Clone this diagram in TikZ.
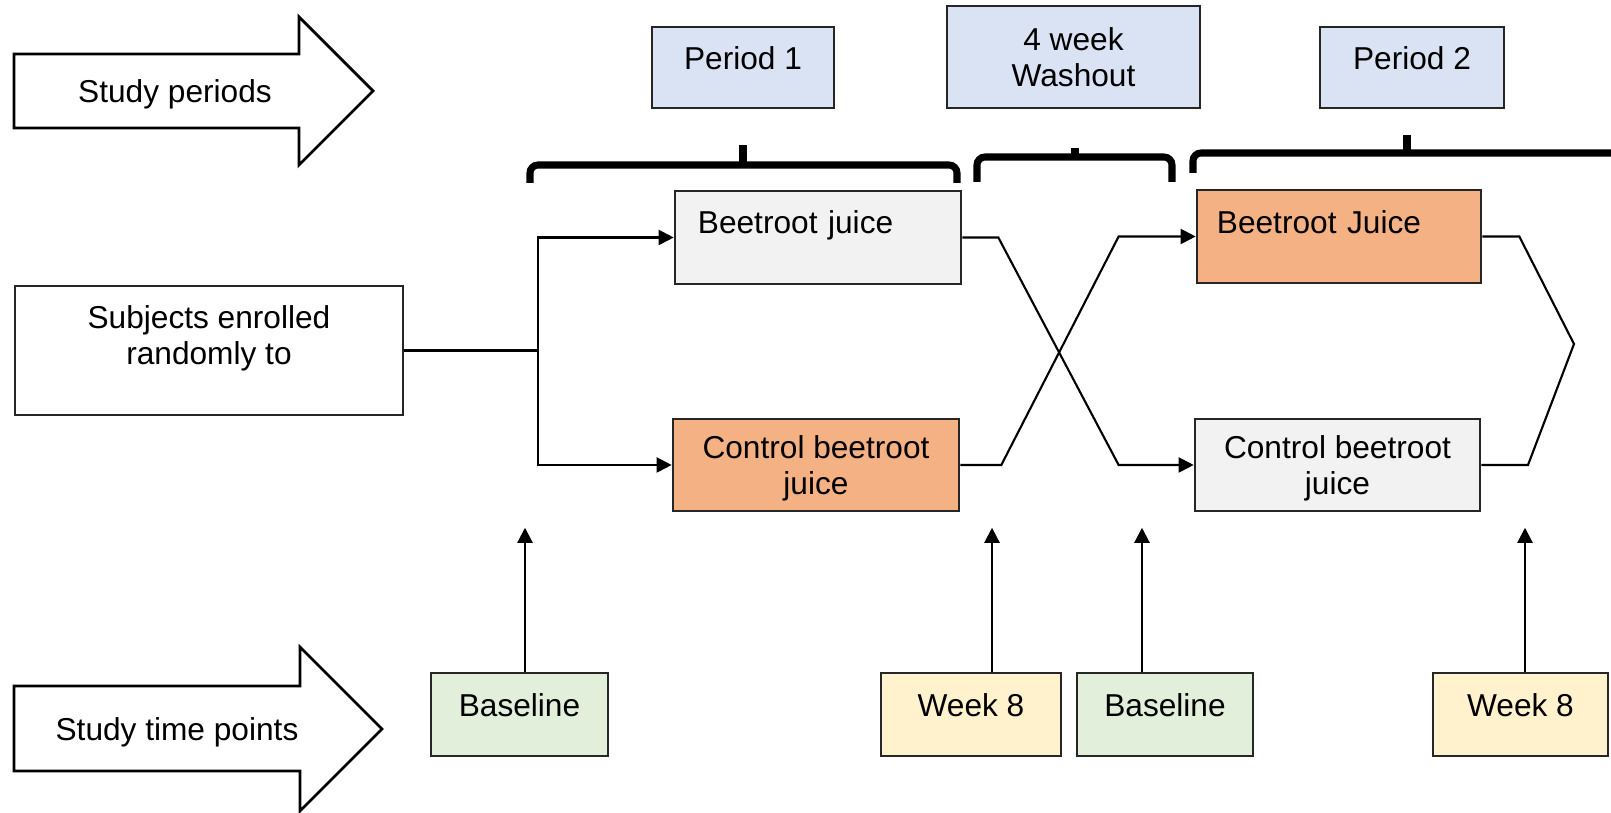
\documentclass[tikz,border=0pt]{standalone}
\usepackage{fontspec}
\setmainfont{Liberation Sans}
\usetikzlibrary{arrows.meta}
\definecolor{periodBlue}{HTML}{DAE3F3}
\definecolor{juiceOrange}{HTML}{F4B183}
\definecolor{juiceGrey}{HTML}{F2F2F2}
\definecolor{baseGreen}{HTML}{E2EFDA}
\definecolor{weekYellow}{HTML}{FFF2CC}
\begin{document}
\begin{tikzpicture}[x=0.01cm,y=-0.01cm,font=\fontsize{9}{10.4}\selectfont,
box/.style={draw=black!85,line width=0.7pt,inner sep=0pt,align=center},
periodBox/.style={box,fill=periodBlue,minimum height=0.81cm},
greyJuice/.style={box,fill=juiceGrey},
orangeJuice/.style={box,fill=juiceOrange},
timeBox/.style={box,minimum height=0.83cm,text depth=5.6pt},
bigArrow/.style={draw=black,line width=0.8pt,fill=white},
brace/.style={draw=black,line width=2pt,rounded corners=0.08cm},
flow/.style={draw=black,line width=0.6pt,-{Triangle[length=4.3pt,width=4.3pt]}}]
\path[use as bounding box] (0,0) rectangle (1611,813);
% row labels
\draw[bigArrow] (14,54)--(299,54)--(299,17)--(373,91)--(299,165)--(299,128)--(14,128)--cycle;
\node[text depth=0pt] (periods) at (175,91) {Study periods};
\draw[bigArrow] (14,686)--(300,686)--(300,647)--(382,729)--(300,811)--(300,771)--(14,771)--cycle;
\node[text depth=0pt] (timepoints) at (177,729) {Study time points};
% periods and braces
\node[periodBox,minimum width=1.82cm,text depth=5.6pt] (period1) at (743,67.5) {Period 1};
\node[periodBox,minimum width=2.53cm,minimum height=1.02cm] (washout) at (1073.5,57) {4 week\\Washout};
\node[periodBox,minimum width=1.84cm,text depth=5.6pt] (period2) at (1412,67.5) {Period 2};
\draw[brace] (530,183)--(530,165)--(957,165)--(957,183);
\draw[brace] (743,165)--(743,145);
\draw[brace] (977,182)--(977,157)--(1172,157)--(1172,182);
\draw[brace] (1075,157)--(1075,148);
\draw[brace] (1193,173)--(1193,153)--(1611,153);
\draw[brace] (1407,153)--(1407,135);
% arms
\node[box,minimum width=3.88cm,minimum height=1.29cm,text depth=8.7pt] (subjects) at (209,350.5) {Subjects enrolled\\randomly to};
\node[greyJuice,text width=2.40cm,inner xsep=0.23cm,minimum height=0.93cm,align=left,text depth=9.0pt] (juice1) at (818,237.5) {Beetroot juice};
\node[orangeJuice,minimum width=2.86cm,minimum height=0.92cm,text depth=0pt] (control1) at (816,465) {Control beetroot\\juice};
\node[orangeJuice,text width=2.44cm,inner xsep=0.20cm,minimum height=0.93cm,align=left,text depth=8.2pt] (juice2) at (1339,236.5) {Beetroot Juice};
\node[greyJuice,minimum width=2.85cm,minimum height=0.92cm,text depth=0pt] (control2) at (1337.5,465) {Control beetroot\\juice};
\draw[line width=0.6pt] (subjects.east)--(538,350.5) coordinate (split);
\draw[flow] (split)|-(juice1.west);
\draw[flow] (split)|-(control1.west);
\draw[flow] (juice1.east)--++(36,0)--([xshift=-0.75cm]control2.west)--(control2.west);
\draw[flow] (control1.east)--++(41,0)--([xshift=-0.77cm]juice2.west)--(juice2.west);
\draw[line width=0.6pt] (juice2.east)--++(37,0)--(1574,344)--(1528,465)--(control2.east);
% time points
\node[timeBox,fill=baseGreen,minimum width=1.77cm] (base1) at (519.5,714.5) {Baseline};
\node[timeBox,fill=weekYellow,minimum width=1.80cm] (week1) at (971,714.5) {Week 8};
\node[timeBox,fill=baseGreen,minimum width=1.76cm] (base2) at (1165,714.5) {Baseline};
\node[timeBox,fill=weekYellow,minimum width=1.75cm] (week2) at (1520.5,714.5) {Week 8};
\draw[flow] ([xshift=0.055cm]base1.north)--++(0,-144);
\draw[flow] ([xshift=0.21cm]week1.north)--++(0,-144);
\draw[flow] ([xshift=-0.23cm]base2.north)--++(0,-144);
\draw[flow] ([xshift=0.045cm]week2.north)--++(0,-144);
\end{tikzpicture}
\end{document}
